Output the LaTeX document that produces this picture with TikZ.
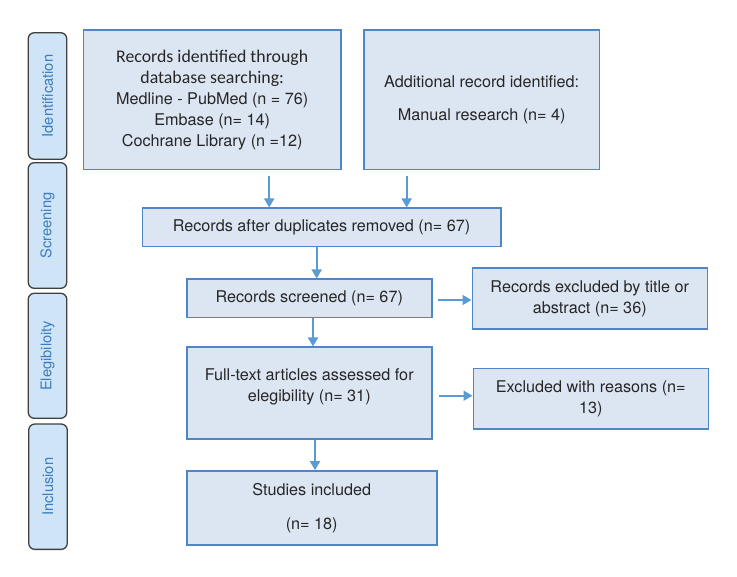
\documentclass[tikz,border=0pt]{standalone}
\usepackage{fontspec}
\setmainfont{TeX Gyre Heros}
\newfontfamily\calibri{Carlito}
\usepackage{tikz}
\usetikzlibrary{positioning}
\usetikzlibrary{arrows.meta}
\definecolor{boxfill}{HTML}{DCE6F2}
\definecolor{boxline}{HTML}{4F86C6}
\definecolor{arrowblue}{HTML}{5B9BD5}
\definecolor{phasefill}{HTML}{CFE4F7}
\definecolor{phasetext}{HTML}{3A7DC0}
\definecolor{textgray}{HTML}{262626}
\tikzset{
  stage/.style={draw=boxline, fill=boxfill, line width=1.6pt, align=center,
    text=textgray, inner sep=2pt, font=\fontsize{16.2}{21}\selectfont},
  phase/.style={draw=black!75, fill=phasefill, line width=1.3pt, rounded corners=6pt,
    rotate=90, minimum height=38.5pt, text=phasetext, font=\fontsize{14.7}{18}\selectfont},
  flow/.style={draw=arrowblue, line width=1.8pt, -{Triangle[length=9pt,width=10pt]}},
}

\begin{document}
\begin{tikzpicture}[x=1pt, y=-1pt]
      \useasboundingbox (0,0) rectangle (737,577);

      % phases on the left
      \node(ident) [phase, minimum width=126.5pt] at (47.5,96) {Identification};
      \node(screen) [phase, minimum width=125.6pt] at (47.5,225.5) {Screening};
      \node(elig) [phase, minimum width=125pt] at (47.5,355.8) {Elegibiloity};
      \node(inclu) [phase, minimum width=125.3pt] at (48,486.7) {Inclusion};

      % flow boxes
      \node(db) [stage, minimum width=257.7pt, minimum height=139.3pt] at (212.2,99.7)
        {{\calibri\fontsize{17.8}{21}\selectfont Records identified through}\\
         {\calibri\fontsize{17.8}{21}\selectfont database searching:}\\
         Medline - PubMed (n = 76)\\Embase (n= 14)\\Cochrane Library (n =12)};
      \node(manual) [stage, minimum width=235.3pt, minimum height=139.7pt] at (481.7,99.8)
        {Additional record identified:\\[12.7pt]Manual research (n= 4)};
      \node(dup) [stage, minimum width=358.4pt, minimum height=38.4pt] at (321.5,227.5)
        {Records after duplicates removed (n= 67)};
      \node(scr) [stage, minimum width=245pt, minimum height=38.4pt] at (309.2,298.5)
        {Records screened (n= 67)};
      \node(extitle) [stage, minimum width=235pt, minimum height=61.4pt, right=39pt of scr]
        {Records excluded by title or\\abstract (n= 36)};
      \node(full) [stage, minimum width=245pt, minimum height=92pt] at (309.2,393.3)
        {Full-text articles assessed for\\elegibility (n= 31)\\[-4pt]\mbox{}};
      \node(exreas) [stage, minimum width=235pt, minimum height=60.7pt] at (590.8,398.7)
        {Excluded with reasons (n=\\13)};
      \node(incl) [stage, minimum width=250pt, minimum height=74pt] at (311.7,508)
        {Studies included\\[12.7pt](n= 18)};

      \draw[flow, shorten <=6pt] ([xshift=57pt]db.south) -- ([xshift=57pt]db.south |- dup.north);
      \draw[flow, shorten <=6pt] ([xshift=-75pt]manual.south) -- ([xshift=-75pt]manual.south |- dup.north);
      \draw[flow] ([xshift=7.5pt]scr.north |- dup.south) -- ([xshift=7.5pt]scr.north);
      \draw[flow] ([xshift=3.8pt]scr.south) -- ([xshift=3.8pt]full.north);
      \draw[flow] ([xshift=5.8pt]full.south) -- ([xshift=5.8pt]full.south |- incl.north);
      \draw[flow, shorten <=5pt] ([yshift=-1.5pt]scr.east) -- ([yshift=-1.5pt]scr.east -| extitle.west);
      \draw[flow, shorten <=6pt] ([yshift=-2.4pt]full.east) -- ([yshift=-2.4pt]full.east -| exreas.west);
    \end{tikzpicture}
\end{document}
